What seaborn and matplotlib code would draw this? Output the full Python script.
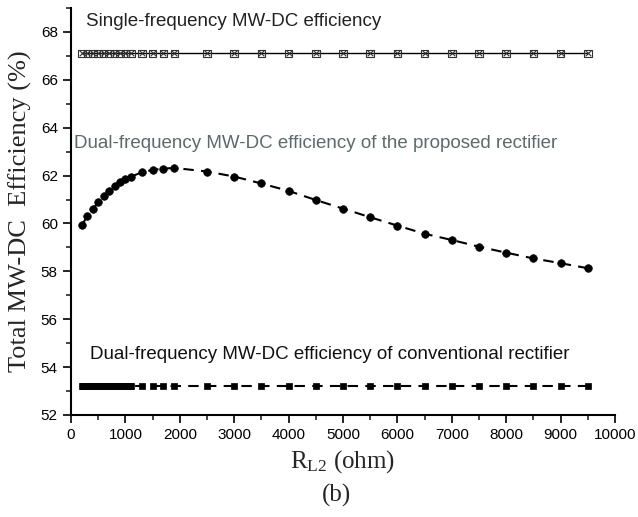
import matplotlib
matplotlib.use("Agg")
import matplotlib.pyplot as plt
import seaborn as sns
import pandas as pd
from matplotlib.ticker import MultipleLocator

# ---- data ----
rl_dual = [200, 300, 400, 500, 600, 700, 800, 900, 1000, 1100, 1300, 1500, 1700, 1900,
           2500, 3000, 3500, 4000, 4500, 5000, 5500, 6000, 6500, 7000, 7500, 8000,
           8500, 9000, 9500]
eff_single = [67.1, 67.1, 67.1, 67.1, 67.1, 67.1, 67.1, 67.1, 67.1, 67.1, 67.1, 67.1,
              67.1, 67.1, 67.1, 67.1, 67.1, 67.1, 67.1, 67.1, 67.1, 67.1, 67.1, 67.1,
              67.1, 67.1, 67.1, 67.1, 67.1]
eff_proposed = [59.93, 60.31, 60.59, 60.90, 61.15, 61.36, 61.57, 61.74, 61.85, 61.96,
                62.13, 62.24, 62.29, 62.32, 62.17, 61.96, 61.67, 61.36, 60.98, 60.62,
                60.26, 59.91, 59.57, 59.31, 59.03, 58.78, 58.54, 58.34, 58.13]
rl_conv = [200, 220, 240, 260, 280, 300, 320, 340, 360, 380, 400, 420, 440, 460, 480,
           500, 520, 540, 560, 580, 600, 620, 640, 660, 680, 700, 720, 740, 760, 780,
           800, 820, 840, 860, 880, 900, 920, 940, 960, 980, 1000, 1020, 1040, 1060,
           1080, 1100, 1300, 1500, 1700, 1900, 2500, 3000, 3500, 4000, 4500,
           5000, 5500, 6000, 6500, 7000, 7500, 8000, 8500, 9000, 9500]
eff_conv = [53.2] * len(rl_conv)

x_ticks = [0, 1000, 2000, 3000, 4000, 5000, 6000, 7000, 8000, 9000, 10000]
y_ticks = [52, 54, 56, 58, 60, 62, 64, 66, 68]

label_single = "Single-frequency MW-DC efficiency"
label_proposed = "Dual-frequency MW-DC efficiency of the proposed rectifier"
label_conv = "Dual-frequency MW-DC efficiency of conventional rectifier"

# ---- style ----
sns.set_style("ticks")
plt.rcParams["font.family"] = ["Liberation Sans", "DejaVu Sans"]
plt.rcParams["mathtext.fontset"] = "custom"
plt.rcParams["mathtext.rm"] = "Liberation Serif"
plt.rcParams["mathtext.it"] = "Liberation Serif:italic"

fig = plt.figure(figsize=(6.38, 5.17), dpi=100)
ax = fig.add_axes([0.1113, 0.1973, 0.8527, 0.7872])

df_s = pd.DataFrame({"x": rl_dual, "y": eff_single})
df_p = pd.DataFrame({"x": rl_dual, "y": eff_proposed})
df_c = pd.DataFrame({"x": rl_conv, "y": eff_conv})

# single-frequency: solid line with crossed squares
sns.lineplot(data=df_s, x="x", y="y", ax=ax, color="black", linewidth=1.0,
             estimator=None)
sns.scatterplot(data=df_s, x="x", y="y", ax=ax, marker="s", s=30,
                facecolor="none", edgecolor="#333333", linewidth=0.8, zorder=3)
sns.scatterplot(data=df_s, x="x", y="y", ax=ax, marker="x", s=16, color="#333333",
                linewidth=0.8, zorder=3)

# proposed: dashed with filled circles
sns.lineplot(data=df_p, x="x", y="y", ax=ax, color="black", linewidth=1.5,
             linestyle=(0, (5, 3.5)), estimator=None)
sns.scatterplot(data=df_p, x="x", y="y", ax=ax, marker="o", s=30, color="black",
                edgecolor="black", linewidth=0.5, zorder=3)

# conventional: dashed with filled squares
sns.lineplot(data=df_c, x="x", y="y", ax=ax, color="black", linewidth=1.5,
             linestyle=(0, (5, 3.5)), estimator=None)
sns.scatterplot(data=df_c, x="x", y="y", ax=ax, marker="s", s=22, color="black",
                edgecolor="black", linewidth=0.5, zorder=3)

ax.set_xlim(0, 10000)
ax.set_ylim(52, 69)
ax.set_xticks(x_ticks)
ax.set_yticks(y_ticks)
ax.xaxis.set_minor_locator(MultipleLocator(500))
ax.yaxis.set_minor_locator(MultipleLocator(1))
ax.tick_params(axis="both", which="major", direction="out", length=6, width=1.2,
               labelsize=11, colors="black")
ax.tick_params(axis="both", which="minor", direction="out", length=3.5, width=1.2)
for s in ["left", "bottom"]:
    ax.spines[s].set_linewidth(1.5)
    ax.spines[s].set_color("black")
sns.despine(ax=ax)

ax.set_xlabel("R$_{\\mathregular{L2}}$ (ohm)", fontsize=18, family="Liberation Serif",
              labelpad=4)
ax.set_ylabel("Total MW-DC  Efficiency (%)", fontsize=19, family="Liberation Serif",
              labelpad=6)

ax.text(276, 68.45, label_single, fontsize=13.5, color="#222222", va="center", ha="left")
ax.text(55, 63.36, label_proposed, fontsize=13.5, color="#5d6a6a", va="center", ha="left")
ax.text(349, 54.51, label_conv, fontsize=13.5, color="#111111", va="center", ha="left")

fig.text(0.527, 1 - 495 / 517, "(b)", fontsize=18, family="Liberation Serif",
         ha="center", va="center")

fig.savefig("out.png", dpi=100)
